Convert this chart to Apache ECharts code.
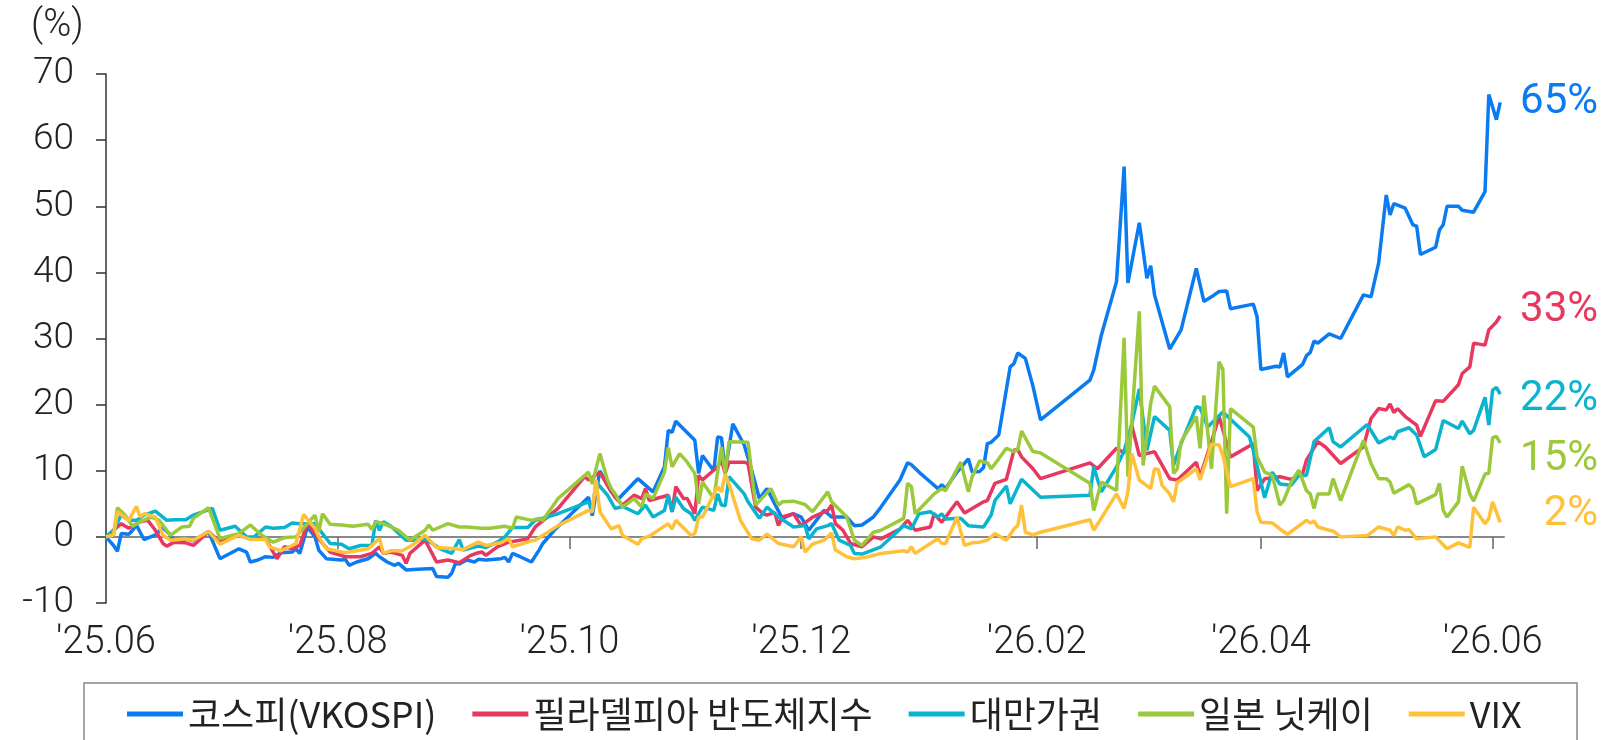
<!DOCTYPE html>
<html><head><meta charset="utf-8">
<script src="https://cdn.jsdelivr.net/npm/echarts@6/dist/echarts.min.js"></script>
<style>html,body{margin:0;padding:0;background:#fff}#c{width:1619px;height:740px}</style>
</head><body><div id="c"></div>
<script>
const seriesNames = ['코스피(VKOSPI)', '필라델피아 반도체지수', '대만가권', '일본 닛케이', 'VIX'];
const endLabels = ['65%', '33%', '22%', '15%', '2%'];
const tickDates = ['2025-06-01','2025-08-01','2025-10-01','2025-12-01','2026-02-01','2026-04-01','2026-06-01'];
const tickLabels = ["'25.06","'25.08","'25.10","'25.12","'26.02","'26.04","'26.06"];
const xMin = '2025-06-01', xMax = '2026-06-04';
const yMin = -10, yMax = 70, yStep = 10;

const kospi = [
['2025-06-01',0],['2025-06-03',-1.3],['2025-06-04',-2.2],['2025-06-05',0.5],['2025-06-07',0.4],['2025-06-08',1],['2025-06-09',1.8],['2025-06-11',-0.4],['2025-06-14',0.3],['2025-06-16',1.4],['2025-06-18',0.3],['2025-06-19',-0.8],['2025-06-22',-0.3],['2025-06-24',-0.6],['2025-06-28',0.8],
['2025-07-01',-3.3],['2025-07-04',-2.4],['2025-07-06',-1.8],['2025-07-08',-2.3],['2025-07-09',-3.8],['2025-07-11',-3.5],['2025-07-13',-3],['2025-07-15',-3.1],['2025-07-17',-2.4],['2025-07-20',-2.3],['2025-07-21',-1.8],['2025-07-22',-2.5],['2025-07-24',1.5],['2025-07-26',0],['2025-07-27',-2],['2025-07-29',-3.3],
['2025-08-02',-3.5],['2025-08-03',-3.4],['2025-08-04',-4.3],['2025-08-06',-3.8],['2025-08-09',-3.3],['2025-08-11',-2.5],['2025-08-12',-3],['2025-08-14',-3.8],['2025-08-16',-4.3],['2025-08-17',-4],['2025-08-19',-5],['2025-08-22',-4.9],['2025-08-26',-4.8],['2025-08-27',-6],['2025-08-30',-6.1],['2025-08-31',-5.5],
['2025-09-01',-4],['2025-09-02',-4.1],['2025-09-04',-3.5],['2025-09-06',-3.8],['2025-09-07',-3.4],['2025-09-09',-3.5],['2025-09-13',-3.3],['2025-09-14',-3.1],['2025-09-15',-3.8],['2025-09-16',-2.5],['2025-09-18',-3],['2025-09-21',-3.8],['2025-09-23',-2],['2025-09-24',-1],['2025-09-27',1],
['2025-10-06',6],['2025-10-07',3.2],['2025-10-09',10],['2025-10-12',6.8],['2025-10-14',5.8],['2025-10-19',8.8],['2025-10-23',6.8],['2025-10-26',10.6],['2025-10-27',16.1],['2025-10-28',15.8],['2025-10-29',17.5],
['2025-11-03',14.6],['2025-11-04',9.6],['2025-11-05',12.3],['2025-11-08',10],['2025-11-09',15.1],['2025-11-10',15],['2025-11-11',10],['2025-11-13',17.1],['2025-11-16',13.9],['2025-11-18',10],['2025-11-20',5.8],['2025-11-22',7.3],['2025-11-26',2.8],['2025-11-29',3.5],
['2025-12-01',3],['2025-12-03',1],['2025-12-07',4],['2025-12-09',3],['2025-12-13',3],['2025-12-15',1.7],['2025-12-17',1.8],['2025-12-20',3],['2025-12-22',4.5],['2025-12-27',8.6],['2025-12-29',11.2],['2025-12-30',10.9],
['2026-01-01',9.8],['2026-01-04',8.3],['2026-01-06',7.3],['2026-01-07',7.9],['2026-01-08',7.3],['2026-01-11',9.8],['2026-01-14',11.8],['2026-01-15',9.8],['2026-01-17',9.9],['2026-01-18',10.5],['2026-01-19',14.1],['2026-01-20',14.3],['2026-01-22',15.4],['2026-01-25',25.7],['2026-01-26',26.2],['2026-01-27',27.8],['2026-01-29',27],['2026-01-31',22.8],
['2026-02-02',17.7],['2026-02-15',23.7],['2026-02-16',25.2],['2026-02-18',30.5],['2026-02-22',38.6],['2026-02-24',56],['2026-02-25',38.4],['2026-02-28',47.5],
['2026-03-02',39.1],['2026-03-03',41],['2026-03-04',36.6],['2026-03-08',28.4],['2026-03-11',31.3],['2026-03-15',40.6],['2026-03-17',35.6],['2026-03-19',36.3],['2026-03-21',37.1],['2026-03-23',37.2],['2026-03-24',34.5],['2026-03-30',35.2],['2026-03-31',33.3],
['2026-04-01',25.3],['2026-04-05',25.8],['2026-04-06',25.7],['2026-04-07',27.8],['2026-04-08',24.2],['2026-04-12',26.1],['2026-04-13',27.4],['2026-04-14',27.9],['2026-04-15',29.6],['2026-04-16',29.3],['2026-04-19',30.7],['2026-04-22',30],['2026-04-28',36.6],['2026-04-30',36.3],
['2026-05-02',41.4],['2026-05-04',51.7],['2026-05-05',48.7],['2026-05-06',50.4],['2026-05-09',49.7],['2026-05-11',47.2],['2026-05-12',47],['2026-05-13',42.7],['2026-05-17',43.8],['2026-05-18',46.4],['2026-05-19',47.2],['2026-05-20',50],['2026-05-23',50],['2026-05-24',49.4],['2026-05-27',49.1],['2026-05-30',52.2],['2026-05-31',66.9],
['2026-06-02',63.1],['2026-06-03',65.7]
];

const sox = [
['2025-06-01',0],['2025-06-03',1],['2025-06-05',2],['2025-06-07',1.3],['2025-06-10',2.3],['2025-06-12',2.5],['2025-06-14',1],['2025-06-16',-1],['2025-06-17',-1.4],['2025-06-19',-0.8],['2025-06-22',-0.9],['2025-06-24',-1.3],['2025-06-28',0.8],
['2025-07-01',-0.8],['2025-07-06',0.25],['2025-07-09',-0.3],['2025-07-13',-0.3],['2025-07-16',-3.3],['2025-07-18',-1.5],['2025-07-20',-1.8],['2025-07-22',-1.3],['2025-07-24',2],['2025-07-26',0.5],['2025-07-27',-0.3],['2025-07-30',-2.3],
['2025-08-03',-3],['2025-08-07',-3],['2025-08-10',-2.5],['2025-08-12',-1.5],['2025-08-13',-2.5],['2025-08-15',-2.3],['2025-08-18',-2.8],['2025-08-19',-4],['2025-08-20',-2.5],['2025-08-24',-0.5],['2025-08-27',-3.8],['2025-08-30',-3.5],
['2025-09-02',-3.9],['2025-09-05',-2.8],['2025-09-07',-2.4],['2025-09-08',-2.3],['2025-09-09',-2.8],['2025-09-12',-1.5],['2025-09-15',-0.8],['2025-09-20',-0.3],['2025-09-22',1.5],['2025-09-28',4.3],
['2025-10-05',9.1],['2025-10-06',8.6],['2025-10-09',9.8],['2025-10-11',7.8],['2025-10-13',6],['2025-10-15',4.8],['2025-10-18',6.3],['2025-10-20',5.8],['2025-10-21',7.3],['2025-10-22',5.5],['2025-10-27',6.3],['2025-10-28',3.8],['2025-10-29',7.6],['2025-10-31',5.8],
['2025-11-01',5.8],['2025-11-03',3.5],['2025-11-04',9.3],['2025-11-05',8.6],['2025-11-09',10.6],['2025-11-10',11.6],['2025-11-11',9.6],['2025-11-12',11.3],['2025-11-16',11.3],['2025-11-17',11.1],['2025-11-19',4.5],['2025-11-21',3.5],['2025-11-22',3.3],['2025-11-24',3.7],['2025-11-25',1.7],['2025-11-26',3],['2025-11-29',3.5],
['2025-12-01',1.7],['2025-12-04',3],['2025-12-08',4],['2025-12-09',4.8],['2025-12-10',2],['2025-12-12',1],['2025-12-14',-1],['2025-12-17',-1.5],['2025-12-20',0],['2025-12-22',-0.3],['2025-12-27',1.2],['2025-12-29',2.5],['2025-12-31',1],
['2026-01-04',1.5],['2026-01-05',3.5],['2026-01-07',2.2],['2026-01-11',5.3],['2026-01-13',3.6],['2026-01-18',5.3],['2026-01-19',5.5],['2026-01-21',8.1],['2026-01-24',8.7],['2026-01-26',13.1],['2026-01-27',13.2],['2026-01-28',12.1],['2026-01-31',10.3],
['2026-02-02',8.8],['2026-02-15',11.2],['2026-02-17',10.3],['2026-02-22',13.4],['2026-02-24',12.7],['2026-02-26',16.9],['2026-02-28',12.3],
['2026-03-04',12.9],['2026-03-08',8.8],['2026-03-10',8.6],['2026-03-15',11.3],['2026-03-16',9.1],['2026-03-19',14.4],['2026-03-21',18.2],['2026-03-24',12.1],['2026-03-30',14.1],['2026-03-31',7],
['2026-04-02',8.8],['2026-04-06',9.1],['2026-04-09',8.7],['2026-04-12',9.6],['2026-04-13',11.6],['2026-04-16',14.4],['2026-04-18',13.6],['2026-04-22',11.1],['2026-04-28',13.6],['2026-04-30',17.9],
['2026-05-02',19.4],['2026-05-04',19.2],['2026-05-05',20.1],['2026-05-06',18.8],['2026-05-07',19.4],['2026-05-09',18.2],['2026-05-12',16.9],['2026-05-13',15.2],['2026-05-17',20.6],['2026-05-19',20.5],['2026-05-23',23],['2026-05-24',24.7],['2026-05-26',25.7],['2026-05-27',29.3],['2026-05-30',29],['2026-05-31',31.3],
['2026-06-02',32.5],['2026-06-03',33.4]
];

const twse = [
['2025-06-01',0],['2025-06-03',1],['2025-06-05',3.3],['2025-06-07',2.5],['2025-06-09',2.5],['2025-06-11',3.3],['2025-06-14',3.9],['2025-06-17',2.5],['2025-06-19',2.6],['2025-06-22',2.6],['2025-06-24',3.3],['2025-06-29',4.3],
['2025-07-01',1],['2025-07-05',1.6],['2025-07-08',0],['2025-07-10',0],['2025-07-13',1.5],['2025-07-15',1.3],['2025-07-18',1.4],['2025-07-20',2.1],['2025-07-22',2],['2025-07-26',2],['2025-07-28',0.5],['2025-07-30',-1],
['2025-08-02',-1.1],['2025-08-04',-1.8],['2025-08-07',-1.3],['2025-08-10',-1.3],['2025-08-11',2.5],['2025-08-12',1],['2025-08-13',2.3],['2025-08-15',1.6],['2025-08-19',-0.5],['2025-08-22',-0.5],['2025-08-24',-0.3],['2025-08-28',-1.8],['2025-08-31',-2.5],
['2025-09-02',-0.4],['2025-09-03',-2],['2025-09-07',-1.4],['2025-09-09',-1.6],['2025-09-12',-0.8],['2025-09-14',0],['2025-09-16',1.4],['2025-09-20',1.4],['2025-09-22',2.5],['2025-09-28',3.5],
['2025-10-06',5.3],['2025-10-07',4],['2025-10-08',8.3],['2025-10-11',6.3],['2025-10-13',4.3],['2025-10-15',4.6],['2025-10-19',3.5],['2025-10-21',4.8],['2025-10-23',3],['2025-10-26',4],['2025-10-27',6.3],['2025-10-28',3.8],['2025-10-29',6],['2025-10-31',4.3],
['2025-11-02',3.5],['2025-11-03',2.5],['2025-11-05',4.5],['2025-11-08',4],['2025-11-09',6.5],['2025-11-10',4.8],['2025-11-11',4.7],['2025-11-12',9.1],['2025-11-16',6.5],['2025-11-17',5.3],['2025-11-20',2.8],['2025-11-22',4.5],['2025-11-25',3],['2025-11-29',1.5],
['2025-12-02',1.7],['2025-12-03',-0.3],['2025-12-05',1.2],['2025-12-08',1.7],['2025-12-09',2],['2025-12-11',-0.5],['2025-12-14',-1.3],['2025-12-15',-2.5],['2025-12-17',-2.6],['2025-12-22',-1.5],['2025-12-28',1.7],['2025-12-30',1.2],
['2026-01-01',3.5],['2026-01-04',3.8],['2026-01-06',3],['2026-01-07',3.5],['2026-01-08',2.7],['2026-01-12',2.8],['2026-01-14',1.7],['2026-01-18',1.5],['2026-01-20',3.3],['2026-01-21',5.5],['2026-01-24',7.7],['2026-01-25',5],['2026-01-28',8.7],
['2026-02-02',6],['2026-02-15',6.3],['2026-02-16',10.6],['2026-02-18',6.8],['2026-02-22',10.6],['2026-02-24',13],['2026-02-26',17],['2026-02-28',22.4],
['2026-03-02',13.1],['2026-03-04',18.2],['2026-03-08',16.1],['2026-03-09',10.8],['2026-03-11',14.1],['2026-03-15',19.7],['2026-03-16',19.5],['2026-03-18',16.6],['2026-03-22',18.9],['2026-03-24',17.8],['2026-03-29',15.1],['2026-03-30',13.1],
['2026-04-02',5.9],['2026-04-04',9.8],['2026-04-06',8],['2026-04-09',7.8],['2026-04-11',9.3],['2026-04-13',9.3],['2026-04-15',14.4],['2026-04-19',16.5],['2026-04-20',14.4],['2026-04-22',13.6],['2026-04-29',17],
['2026-05-02',14.2],['2026-05-05',15.1],['2026-05-06',14.8],['2026-05-07',15.9],['2026-05-10',16.5],['2026-05-12',15.4],['2026-05-14',12.1],['2026-05-17',13.2],['2026-05-19',17.6],['2026-05-23',16.4],['2026-05-24',17.5],['2026-05-26',15.6],['2026-05-27',16.1],['2026-05-30',21.1],['2026-05-31',16.9],
['2026-06-01',22.2],['2026-06-02',22.6],['2026-06-03',21.6]
];

const nikkei = [
['2025-06-01',0],['2025-06-03',0.3],['2025-06-04',4.4],['2025-06-06',3.3],['2025-06-08',1.6],['2025-06-10',2.3],['2025-06-13',3],['2025-06-15',2.5],['2025-06-18',0.25],['2025-06-21',1.5],['2025-06-23',1.6],['2025-06-24',2.8],['2025-06-28',4.4],
['2025-07-01',-0.25],['2025-07-06',0.5],['2025-07-09',1.8],['2025-07-12',0.25],['2025-07-15',-0.8],['2025-07-18',-0.1],['2025-07-21',0],['2025-07-24',2],['2025-07-26',3.3],['2025-07-27',0.8],['2025-07-28',3.5],['2025-07-30',1.9],
['2025-08-02',1.8],['2025-08-05',1.6],['2025-08-09',1.9],['2025-08-10',1.1],['2025-08-11',2.3],['2025-08-13',2],['2025-08-17',1],['2025-08-20',-0.5],['2025-08-24',1],['2025-08-25',1.8],['2025-08-26',1],['2025-08-30',2],
['2025-09-02',1.5],['2025-09-04',1.5],['2025-09-08',1.3],['2025-09-10',1.3],['2025-09-14',1.6],['2025-09-16',1.3],['2025-09-17',3],['2025-09-21',2.5],['2025-09-23',2.8],['2025-09-24',2.5],['2025-09-28',5.8],
['2025-10-06',9.8],['2025-10-07',8],['2025-10-09',12.6],['2025-10-11',8.6],['2025-10-12',7.3],['2025-10-13',6.5],['2025-10-15',4.5],['2025-10-18',5.8],['2025-10-20',4.5],['2025-10-21',6.5],['2025-10-23',5.8],['2025-10-26',9.8],['2025-10-27',13.5],['2025-10-28',10.6],['2025-10-30',12.6],
['2025-11-01',11.3],['2025-11-03',9.6],['2025-11-04',5],['2025-11-05',8.3],['2025-11-08',5.8],['2025-11-09',9.8],['2025-11-10',13.6],['2025-11-11',9.6],['2025-11-12',14.4],['2025-11-17',14.3],['2025-11-19',4.8],['2025-11-23',7.3],['2025-11-25',4.8],['2025-11-26',5.3],['2025-11-29',5.4],
['2025-12-02',4.9],['2025-12-04',3.8],['2025-12-08',6.8],['2025-12-09',5.3],['2025-12-13',3],['2025-12-15',-0.5],['2025-12-17',-1.3],['2025-12-20',0.7],['2025-12-22',1],['2025-12-28',2.8],['2025-12-29',8.1],['2025-12-30',7.6],['2025-12-31',3.5],
['2026-01-05',6.5],['2026-01-07',7.3],['2026-01-08',7],['2026-01-12',11.3],['2026-01-14',6.8],['2026-01-15',9.1],['2026-01-17',11.5],['2026-01-19',11.2],['2026-01-20',10.3],['2026-01-22',11.8],['2026-01-24',13.4],['2026-01-26',12.9],['2026-01-27',13.2],['2026-01-28',16],['2026-01-31',12.9],
['2026-02-02',12.7],['2026-02-15',8.1],['2026-02-16',4],['2026-02-18',8.3],['2026-02-22',7],['2026-02-24',30.1],['2026-02-25',9.1],['2026-02-28',34.1],
['2026-03-01',10.8],['2026-03-03',20.2],['2026-03-04',22.8],['2026-03-08',19.7],['2026-03-09',9.6],['2026-03-10',10.3],['2026-03-11',14.4],['2026-03-15',18.2],['2026-03-16',13.4],['2026-03-17',21.4],['2026-03-19',10.3],['2026-03-21',26.5],['2026-03-22',25.3],['2026-03-23',3.5],['2026-03-24',19.4],['2026-03-30',16.6],['2026-03-31',12.1],
['2026-04-02',9.8],['2026-04-04',9.3],['2026-04-06',4.8],['2026-04-07',5.5],['2026-04-09',8.3],['2026-04-11',10.1],['2026-04-13',7],['2026-04-14',6.5],['2026-04-15',4.3],['2026-04-16',6.5],['2026-04-19',6.5],['2026-04-20',8.8],['2026-04-22',5.5],['2026-04-28',14.6],['2026-04-30',11.1],
['2026-05-02',8.8],['2026-05-04',8.8],['2026-05-05',8.3],['2026-05-06',6.6],['2026-05-10',7.9],['2026-05-11',7.3],['2026-05-12',5],['2026-05-17',6.4],['2026-05-18',8.1],['2026-05-19',4],['2026-05-20',3],['2026-05-23',5.3],['2026-05-24',10.7],['2026-05-26',6.5],['2026-05-27',5.4],['2026-05-30',9.5],['2026-05-31',9.6],
['2026-06-01',15],['2026-06-02',15.2],['2026-06-03',14.2]
];

const vix = [
['2025-06-01',0],['2025-06-03',0.3],['2025-06-04',3.8],['2025-06-07',2.5],['2025-06-09',4.6],['2025-06-10',3],['2025-06-11',3.5],['2025-06-14',3],['2025-06-16',0.25],['2025-06-18',-0.5],['2025-06-22',-0.3],['2025-06-24',-0.5],['2025-06-28',0.8],
['2025-07-01',-1.1],['2025-07-06',0.25],['2025-07-09',-0.4],['2025-07-13',-0.4],['2025-07-14',-1.5],['2025-07-17',-2.1],['2025-07-20',-1.3],['2025-07-21',-1],['2025-07-23',3.4],['2025-07-26',1.3],['2025-07-27',0],['2025-07-29',-1.8],
['2025-08-03',-2.4],['2025-08-09',-1.8],['2025-08-12',-0.25],['2025-08-13',-2.5],['2025-08-15',-2.1],['2025-08-18',-2.1],['2025-08-21',-1.1],['2025-08-24',0.25],['2025-08-27',-1.6],
['2025-09-01',-1.8],['2025-09-03',-1.9],['2025-09-07',-0.8],['2025-09-09',-1.3],['2025-09-13',-0.9],['2025-09-15',-0.25],['2025-09-16',-1.5],['2025-09-21',-0.6],['2025-09-22',-0.5],['2025-09-28',1.7],
['2025-10-06',4],['2025-10-07',3.8],['2025-10-08',8.6],['2025-10-09',3.8],['2025-10-12',1.2],['2025-10-14',1.7],['2025-10-15',0.2],['2025-10-19',-1.1],['2025-10-20',-0.3],['2025-10-22',0.1],['2025-10-27',2],['2025-10-28',1.2],['2025-10-29',2.5],
['2025-11-02',0.2],['2025-11-03',0.5],['2025-11-04',3],['2025-11-05',3],['2025-11-09',7.6],['2025-11-10',6.8],['2025-11-11',9.5],['2025-11-12',8],['2025-11-15',2.5],['2025-11-18',-0.3],['2025-11-20',-0.5],['2025-11-22',0.4],['2025-11-25',-1],['2025-11-29',-1.5],
['2025-12-01',0],['2025-12-02',-2.3],['2025-12-04',-1.1],['2025-12-07',-0.5],['2025-12-09',0.6],['2025-12-10',-2],['2025-12-13',-3],['2025-12-15',-3.3],['2025-12-18',-3.1],['2025-12-22',-2.5],['2025-12-28',-2.1],['2025-12-29',-2.3],['2025-12-30',-1.5],['2025-12-31',-2.5],
['2026-01-04',-1],['2026-01-06',-0.3],['2026-01-07',-1],['2026-01-08',-1],['2026-01-11',3],['2026-01-13',-1.3],['2026-01-15',-0.9],['2026-01-17',-0.8],['2026-01-19',-0.5],['2026-01-21',0.5],['2026-01-24',-0.5],['2026-01-26',1.2],['2026-01-27',1.7],['2026-01-28',4.8],['2026-01-29',0.7],['2026-01-31',0.3],
['2026-02-02',0.7],['2026-02-15',2.6],['2026-02-16',1],['2026-02-22',6.5],['2026-02-24',4.3],['2026-02-25',6.8],['2026-02-26',12.6],['2026-02-28',8.6],
['2026-03-03',7.3],['2026-03-04',10.3],['2026-03-05',10.2],['2026-03-06',7.8],['2026-03-08',6.5],['2026-03-09',5.3],['2026-03-10',8.3],['2026-03-11',8.6],['2026-03-15',10.3],['2026-03-16',8.6],['2026-03-19',14],['2026-03-21',13.9],['2026-03-22',12.3],['2026-03-24',7.6],['2026-03-30',8.8],['2026-03-31',3.8],
['2026-04-01',2.2],['2026-04-04',2.1],['2026-04-06',1.2],['2026-04-08',0.4],['2026-04-13',2.5],['2026-04-14',2.1],['2026-04-15',2.4],['2026-04-16',1.5],['2026-04-19',1],['2026-04-20',0.9],['2026-04-22',0],['2026-04-29',0.2],
['2026-05-02',1.5],['2026-05-05',1],['2026-05-06',0.2],['2026-05-07',1.5],['2026-05-09',1],['2026-05-10',1.1],['2026-05-12',-0.3],['2026-05-17',0],['2026-05-20',-1.8],['2026-05-23',-0.9],['2026-05-26',-1.6],['2026-05-27',4.5],['2026-05-30',2],['2026-05-31',2.8],
['2026-06-01',5.3],['2026-06-03',2.2]
];

const allData = [kospi, sox, twse, nikkei, vix];
const colors = ['#0B7BF2', '#E8385F', '#0BB4CE', '#9CC93C', '#FFC13A'];
const labelTops = [81, 289, 378, 438, 493];

// date string -> timestamp (UTC, so spacing is exact days)
const ts = s => { const p = s.split('-').map(Number); return Date.UTC(p[0], p[1] - 1, p[2]); };
const tickTimes = tickDates.map(ts);
const fmtTick = v => { const i = tickTimes.indexOf(Math.round(+v)); return i >= 0 ? tickLabels[i] : ''; };

const chart = echarts.init(document.getElementById('c'), null, {renderer: 'canvas'});
const tickFont = {color: '#222', fontFamily: 'Roboto', fontWeight: 300};

chart.setOption({
  animation: false,
  backgroundColor: '#fff',
  title: {text: '(%)', left: 26, top: 2, textStyle: {fontSize: 38, fontWeight: 300, fontFamily: 'Roboto', color: '#222'}},
  grid: {left: 106, right: 115, top: 74, bottom: 137, containLabel: false, outerBoundsMode: 'none'},
  xAxis: [
    {type: 'value', min: ts(xMin), max: ts(xMax), scale: true,
     axisLine: {show: true, onZero: true, lineStyle: {color: '#888', width: 2}},
     axisTick: {show: true, length: 12, customValues: tickTimes, lineStyle: {color: '#666', width: 1.5}},
     axisLabel: {show: false}, splitLine: {show: false}},
    {type: 'value', min: ts(xMin), max: ts(xMax), scale: true, position: 'bottom',
     axisLine: {show: false, onZero: false}, axisTick: {show: false}, splitLine: {show: false},
     axisLabel: Object.assign({show: true, customValues: tickTimes, formatter: fmtTick, margin: 21, fontSize: 38, hideOverlap: false}, tickFont)}
  ],
  yAxis: {type: 'value', min: yMin, max: yMax, interval: yStep,
    axisLine: {show: true, lineStyle: {color: '#333', width: 1.5}},
    axisTick: {show: true, length: 10, lineStyle: {color: '#333', width: 1.5}},
    splitLine: {show: false},
    axisLabel: Object.assign({margin: 32, fontSize: 37}, tickFont)},
  legend: {data: seriesNames, left: 122, top: 691, icon: 'rect', itemWidth: 56, itemHeight: 5, itemGap: 36,
    textStyle: {fontSize: 36, color: '#222', fontFamily: '"Noto Sans CJK KR"'}},
  graphic: [
    {type: 'rect', silent: true, shape: {x: 84, y: 683, width: 1493, height: 80}, style: {fill: 'none', stroke: '#888', lineWidth: 1.5}}
  ].concat(endLabels.map((t, i) => ({type: 'text', right: 21, top: labelTops[i], silent: true,
      style: {text: t, fill: colors[i], font: '400 42px Roboto'}}))),
  series: allData.map((d, i) => ({
    name: seriesNames[i], type: 'line', xAxisIndex: 0, data: d.map(p => [ts(p[0]), p[1]]), showSymbol: false, symbol: 'none',
    lineStyle: {width: 3.5, color: colors[i]}, itemStyle: {color: colors[i]}, z: 2 + i
  }))
});
</script></body></html>
